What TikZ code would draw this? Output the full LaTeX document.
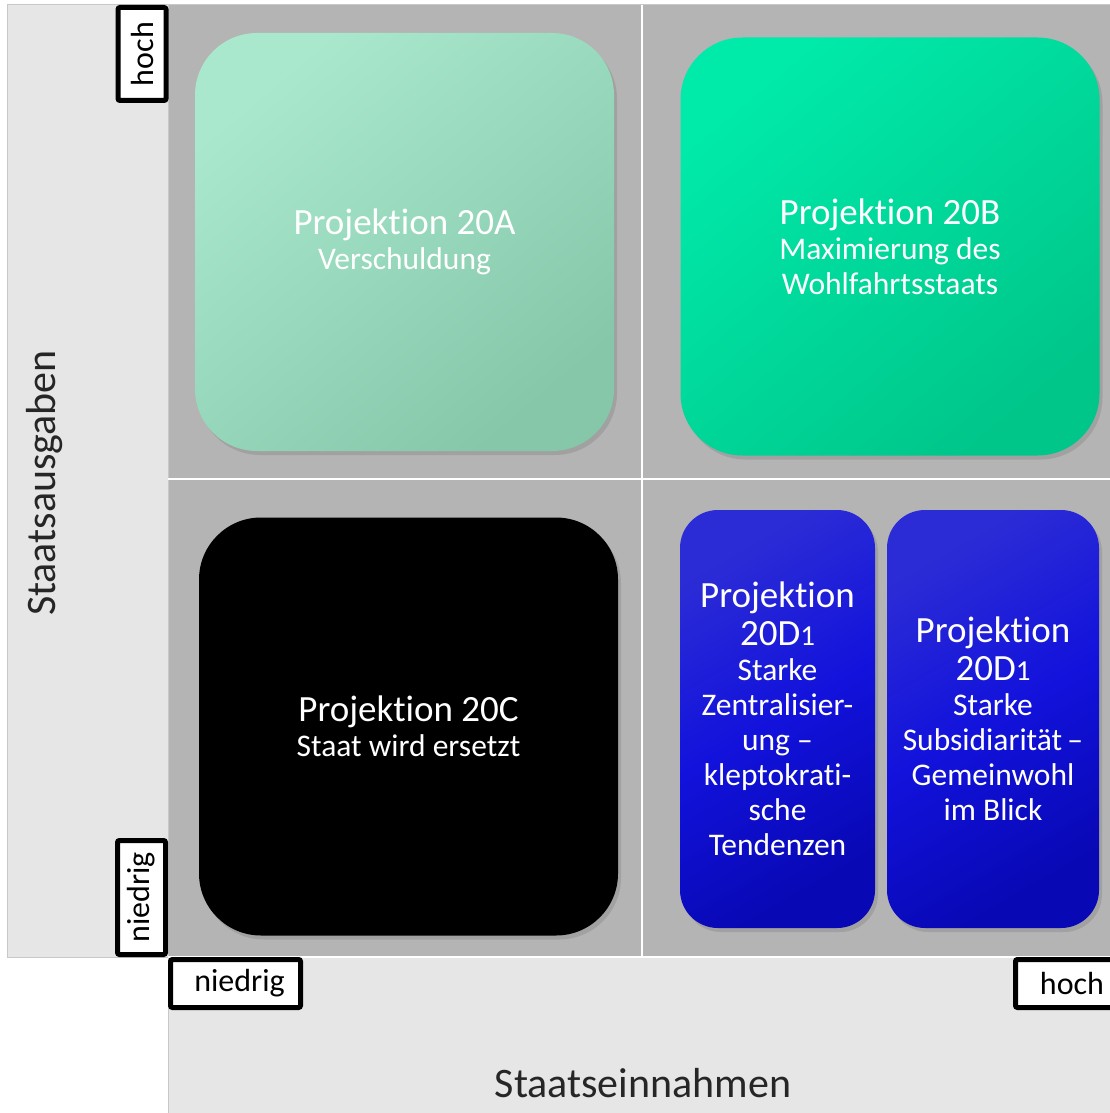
\documentclass[tikz,border=0pt]{standalone}
\usepackage{fontspec}
\setmainfont[Ligatures={NoCommon,NoContextual}]{Carlito}
\usetikzlibrary{shadows}
\definecolor{panelgray}{HTML}{E6E6E6}
\definecolor{gridgray}{HTML}{B4B4B4}
\definecolor{paneledge}{HTML}{C8C8C8}
\definecolor{mintA}{HTML}{A9E8CD}
\definecolor{mintB}{HTML}{86C7AA}
\definecolor{greenA}{HTML}{00EAAA}
\definecolor{greenB}{HTML}{00C68A}
\definecolor{blueA}{HTML}{2C2CD6}
\definecolor{blueM}{HTML}{1212DC}
\definecolor{blueB}{HTML}{0808B4}
\newcommand{\ttlfont}{\fontsize{37}{40}\selectfont}
\newcommand{\onefont}{\fontsize{29}{40}\selectfont}
\begin{document}
\begin{tikzpicture}[x=1pt,y=-1pt,
  box/.style={draw=none, text=white, align=center,
    font=\fontsize{31.5}{35}\selectfont,
    drop shadow={opacity=0.35,shadow xshift=3pt,shadow yshift=-4pt}},
  bigbox/.style={box, rounded corners=62pt, minimum width=419pt, minimum height=418pt},
  tallbox/.style={box, rounded corners=38pt, minimum height=418pt},
  lbl/.style={draw=black, line width=5pt, fill=white, rounded corners=2pt,
    inner sep=0pt, font=\fontsize{32}{35}\selectfont, minimum height=48pt},
  axislbl/.style={font=\fontsize{42}{46}\selectfont, text=black!85}
]
\useasboundingbox (0,0) rectangle (1110,1113);
\fill[white] (0,0) rectangle (1110,1113);
% panels
\filldraw[fill=panelgray, draw=paneledge, line width=1pt] (7,5) rectangle (168,957);
\filldraw[fill=gridgray, draw=paneledge, line width=1pt] (168,5) rectangle (1112,957);
\filldraw[fill=panelgray, draw=paneledge, line width=1pt] (168,957) rectangle (1112,1115);
\draw[white, line width=2.5pt] (642,5) -- (642,957);
\draw[white, line width=2.5pt] (168,479) -- (1110,479);
\draw[white, line width=2.5pt] (168,957) -- (1110,957);

% boxes
\node[bigbox, top color=mintA, bottom color=mintB, shading angle=40] (pa) at (404.5,242)
  {{\ttlfont Projektion 20A}\\Verschuldung};
\node[bigbox, top color=greenA, bottom color=greenB, shading angle=40] (pb) at (890,246.5)
  {{\ttlfont Projektion 20B}\\Maximierung des\\Wohlfahrtsstaats};
\node[bigbox, fill=black] (pc) at (408.5,726.5)
  {{\ttlfont Projektion 20C}\\Staat wird ersetzt};
\node[tallbox, minimum width=195pt, top color=blueA, bottom color=blueB, middle color=blueM, shading angle=30] (pd1) at (777.5,719)
  {{\ttlfont Projektion}\\[3pt]{\ttlfont 20D{\onefont 1}}\\Starke\\Zentralisier-\\ung --\\kleptokrati-\\sche\\Tendenzen};
\node[tallbox, minimum width=212pt, top color=blueA, bottom color=blueB, middle color=blueM, shading angle=30] (pd2) at (993,719)
  {{\ttlfont Projektion}\\[3pt]{\ttlfont 20D{\onefont 1}}\\Starke\\Subsidiarität\,--\\Gemeinwohl\\im Blick};

% axis labels
\node[axislbl, rotate=90] (ya) at (45,483) {Staatsausgaben};
\node[axislbl] (xa) at (643,1083) {Staatseinnahmen};

% level labels
\node[lbl, rotate=90, minimum width=93pt] (yhi) at (142,54) {hoch};
\node[lbl, rotate=90, minimum width=114pt] (ylo) at (141.5,897.5) {niedrig};
\node[lbl, minimum width=130pt] (xlo) at (235.5,983.5) {\hspace*{8pt}niedrig};
\node[lbl, minimum width=113pt] (xhi) at (1072,983.5) {hoch};
\end{tikzpicture}
\end{document}
